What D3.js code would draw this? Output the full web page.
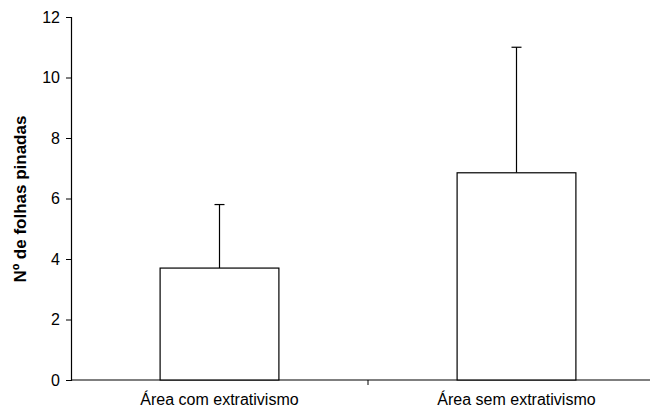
<!DOCTYPE html>
<html>
<head>
<meta charset="utf-8">
<script src="https://cdn.jsdelivr.net/npm/d3@7"></script>
<style>
  body { margin: 0; background: #fff; }
  svg text { font-family: "Liberation Sans", Arial, sans-serif; fill: #000; }
</style>
</head>
<body>
<div id="chart"></div>
<script>
// values
const categories = ['Área com extrativismo', 'Área sem extrativismo'];
const means = [3.7, 6.85];
const errors = [2.1, 4.15];
const yTicks = [0, 2, 4, 6, 8, 10, 12];

const width = 650, height = 411;
const svg = d3.select('#chart').append('svg')
  .attr('width', width)
  .attr('height', height);

// x range runs off the right edge, like the original
const x = d3.scaleBand()
  .domain(categories)
  .range([71, 665])
  .paddingInner(0.6)
  .paddingOuter(0.3);

const y = d3.scaleLinear()
  .domain([0, 12])
  .range([380, 17]);

// y axis
const yAxis = svg.append('g')
  .attr('transform', 'translate(71,0)')
  .call(d3.axisLeft(y).tickValues(yTicks).tickSize(5).tickPadding(6));
yAxis.select('.domain').attr('stroke', '#000').attr('stroke-width', 1.2);
yAxis.selectAll('.tick line').attr('stroke', '#000');
yAxis.selectAll('.tick text')
  .style('font-size', '16px')
  .style('font-family', '"Liberation Sans", Arial, sans-serif')
  .attr('fill', '#000');

// x axis line + tick between the two groups
svg.append('line')
  .attr('x1', 71).attr('x2', 665)
  .attr('y1', y(0)).attr('y2', y(0))
  .attr('stroke', '#000').attr('stroke-width', 1.2);

svg.append('line')
  .attr('x1', x.step() + 71).attr('x2', x.step() + 71)
  .attr('y1', y(0)).attr('y2', y(0) + 5)
  .attr('stroke', '#000');

// error bars (upper only), drawn before bars
categories.forEach((c, i) => {
  const cx = x(c) + x.bandwidth() / 2;
  svg.append('line')
    .attr('x1', cx).attr('x2', cx)
    .attr('y1', y(means[i])).attr('y2', y(means[i] + errors[i]))
    .attr('stroke', '#000').attr('stroke-width', 1.2);
  svg.append('line')
    .attr('x1', cx - 5).attr('x2', cx + 5)
    .attr('y1', y(means[i] + errors[i])).attr('y2', y(means[i] + errors[i]))
    .attr('stroke', '#000').attr('stroke-width', 1.2);
});

// bars
svg.selectAll('rect.bar')
  .data(means)
  .join('rect')
  .attr('class', 'bar')
  .attr('x', (d, i) => x(categories[i]))
  .attr('width', x.bandwidth())
  .attr('y', d => y(d))
  .attr('height', d => y(0) - y(d))
  .attr('fill', '#fff')
  .attr('stroke', '#000')
  .attr('stroke-width', 1.2);

// category labels
svg.selectAll('text.cat')
  .data(categories)
  .join('text')
  .attr('class', 'cat')
  .attr('x', d => x(d) + x.bandwidth() / 2)
  .attr('y', 405)
  .attr('text-anchor', 'middle')
  .style('font-size', '16px')
  .text(d => d);

// y title
svg.append('text')
  .attr('transform', 'translate(26,199) rotate(-90)')
  .attr('text-anchor', 'middle')
  .style('font-size', '17px')
  .style('font-weight', 'bold')
  .text('Nº de folhas pinadas');
</script>
</body>
</html>
